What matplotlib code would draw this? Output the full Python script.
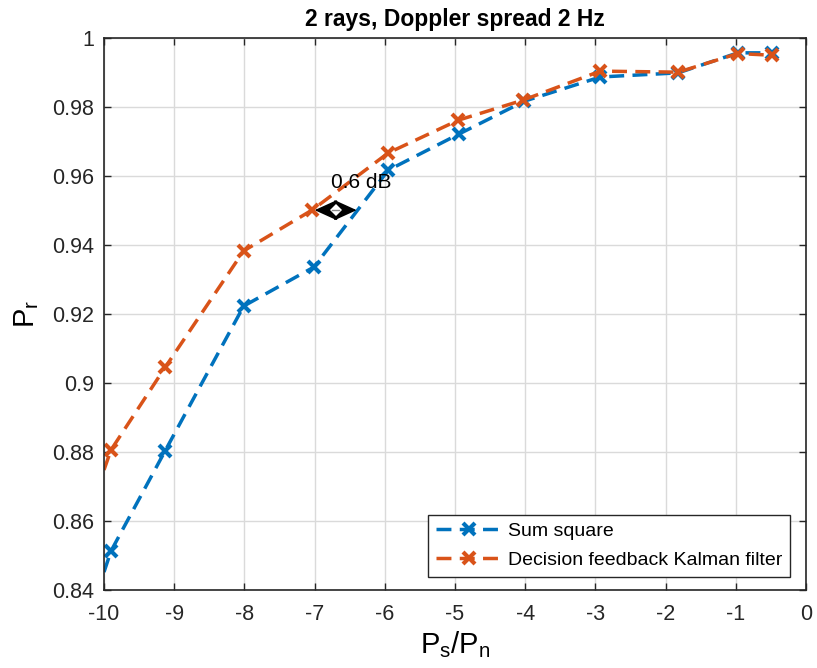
import matplotlib
matplotlib.use("Agg")
import matplotlib.pyplot as plt

plt.rcParams['font.family'] = ['Liberation Sans', 'DejaVu Sans']
plt.rcParams['mathtext.fontset'] = 'custom'
plt.rcParams['mathtext.rm'] = 'Liberation Sans'
plt.rcParams['mathtext.it'] = 'Liberation Sans'

# Data
x_sum = [-10.0, -9.90, -9.13, -8.01, -7.01, -5.95, -4.94, -4.01, -2.93, -1.82, -0.97, -0.48]
y_sum = [0.8452, 0.8513, 0.8803, 0.9223, 0.9336, 0.9617, 0.9722, 0.9817, 0.9887, 0.9899, 0.9957, 0.9957]
x_dfk = [-10.0, -9.90, -9.13, -8.01, -7.03, -5.95, -4.95, -4.03, -2.93, -1.82, -0.97, -0.48]
y_dfk = [0.8748, 0.8806, 0.9045, 0.9383, 0.9502, 0.9667, 0.9762, 0.9820, 0.9904, 0.9901, 0.9955, 0.9950]

xticks = [-10, -9, -8, -7, -6, -5, -4, -3, -2, -1, 0]
xtick_labels = ['-10', '-9', '-8', '-7', '-6', '-5', '-4', '-3', '-2', '-1', '0']
yticks = [0.84, 0.86, 0.88, 0.90, 0.92, 0.94, 0.96, 0.98, 1.0]
ytick_labels = ['0.84', '0.86', '0.88', '0.9', '0.92', '0.94', '0.96', '0.98', '1']

arrow_x = [-7.0, -6.4]
arrow_y = 0.9501
gap_label = '0.6 dB'

blue = '#0072BD'
orange = '#D95319'

fig = plt.figure(figsize=(8.17, 6.68), dpi=100)
ax = fig.add_axes([0.1273, 0.1168, 0.8592, 0.8263])

common = dict(linestyle='--', dashes=(4.3, 2.4), linewidth=2.5, marker='x',
              markersize=8, markeredgewidth=3, markevery=list(range(1, len(x_sum))))
ax.plot(x_sum, y_sum, color=blue, label='Sum square', **common)
ax.plot(x_dfk, y_dfk, color=orange, label='Decision feedback Kalman filter', **common)

ax.annotate('', xy=(arrow_x[1], arrow_y), xytext=(arrow_x[0], arrow_y),
            arrowprops=dict(arrowstyle='<|-|>,head_length=0.55,head_width=0.25',
                            color='black', lw=1.2, mutation_scale=26,
                            shrinkA=0, shrinkB=0), zorder=5)
mid_x = sum(arrow_x) / 2
ax.plot([mid_x], [arrow_y], marker='D', markersize=6, color='white',
        markeredgewidth=0, zorder=6)
ax.plot([mid_x - 0.05, mid_x + 0.05], [arrow_y, arrow_y], color='#8a8a8a',
        lw=1.0, zorder=7)
ax.text(-6.33, 0.958, gap_label, fontsize=15, ha='center', va='center', color='black')

ax.set_xlim(-10, 0)
ax.set_ylim(0.84, 1.0)
ax.set_xticks(xticks)
ax.set_xticklabels(xtick_labels)
ax.set_yticks(yticks)
ax.set_yticklabels(ytick_labels)
ax.tick_params(direction='in', length=5, width=1, top=True, right=True,
               labelsize=15.5, colors='#262626')
ax.tick_params(axis='x', pad=10)
ax.tick_params(axis='y', pad=7)
for s in ax.spines.values():
    s.set_color('#262626')
    s.set_linewidth(1.2)
ax.grid(True, color='#dadada', linewidth=1)
ax.set_axisbelow(True)

ax.set_title('2 rays, Doppler spread 2 Hz', fontsize=16.5, fontweight='bold', pad=9)
ax.set_xlabel(r'$\mathrm{P_s/P_n}$', fontsize=21, labelpad=3)
ax.set_ylabel(r'$\mathrm{P_r}$', fontsize=21, labelpad=8)

leg = ax.legend(loc='lower right', bbox_to_anchor=(0.977, 0.0236), fontsize=14,
                frameon=True, fancybox=False, edgecolor='#262626', framealpha=1,
                handlelength=3.4, borderpad=0.4, labelspacing=0.6, handletextpad=0.3,
                borderaxespad=0)
leg.get_frame().set_linewidth(1)

fig.savefig('out.png', dpi=100)
